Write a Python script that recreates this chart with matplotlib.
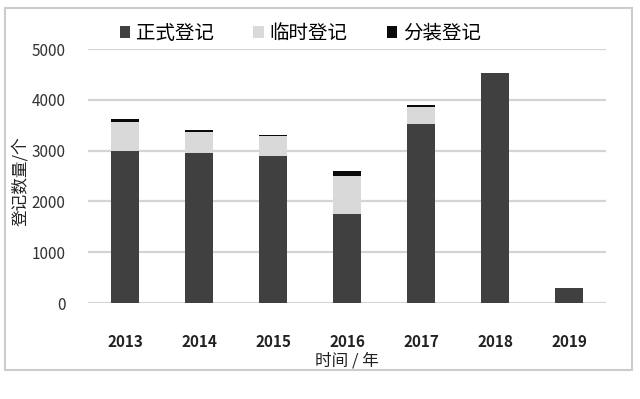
import numpy as np
import matplotlib
matplotlib.use("Agg")
import matplotlib.pyplot as plt
from matplotlib.patches import Rectangle

plt.rcParams['font.family'] = ['Noto Sans CJK SC', 'DejaVu Sans']

years = ['2013', '2014', '2015', '2016', '2017', '2018', '2019']
formal = [3000, 2950, 2900, 1750, 3520, 4530, 300]     # 正式登记
temporary = [570, 410, 390, 760, 340, 0, 0]            # 临时登记
repack = [50, 40, 25, 90, 35, 0, 0]                    # 分装登记

fig = plt.figure(figsize=(6.4, 3.99), dpi=100)
ax = fig.add_axes([0.1375, 0.2406, 0.8095, 0.6365])

x = np.arange(len(years))
w = 0.38
f = np.array(formal)
t = np.array(temporary)
r = np.array(repack)
ax.bar(x, f, w, color='#404040', label='正式登记', zorder=3)
ax.bar(x, t, w, bottom=f, color='#d9d9d9', label='临时登记', zorder=3)
ax.bar(x, r, w, bottom=f + t, color='#0a0a0a', label='分装登记', zorder=3)

ax.set_xlim(-0.5, len(years) - 0.5)
ax.set_ylim(0, 5000)
ax.set_yticks([0, 1000, 2000, 3000, 4000, 5000])
ax.yaxis.grid(True, color='#d4d4d4', linewidth=1.6, zorder=0)
ax.set_axisbelow(True)
for s in ax.spines.values():
    s.set_visible(False)
ax.tick_params(axis='both', length=0)
ax.tick_params(axis='y', labelsize=11, labelcolor='#333333', pad=16)
ax.set_xticks(x)
ax.set_xticklabels(years, fontsize=11, fontweight='bold', color='#222222')
ax.tick_params(axis='x', pad=22)

ax.set_xlabel('时间 / 年', fontsize=12, color='#222222', labelpad=2)
ax.set_ylabel('登记数量/个', fontsize=12, color='#222222')
ax.yaxis.set_label_coords(-0.113, 0.48)

ax.legend(loc='center', bbox_to_anchor=(0.41, 1.063), ncol=3, frameon=False,
          fontsize=14, handlelength=0.55, handleheight=0.55, handletextpad=0.3,
          columnspacing=2.0)

fig.patches.append(Rectangle((5 / 640, 1 - 370 / 399), 627 / 640, 362 / 399,
                             transform=fig.transFigure, fill=False,
                             edgecolor='#cccccc', linewidth=1.5))

fig.savefig('out.png', dpi=100)
